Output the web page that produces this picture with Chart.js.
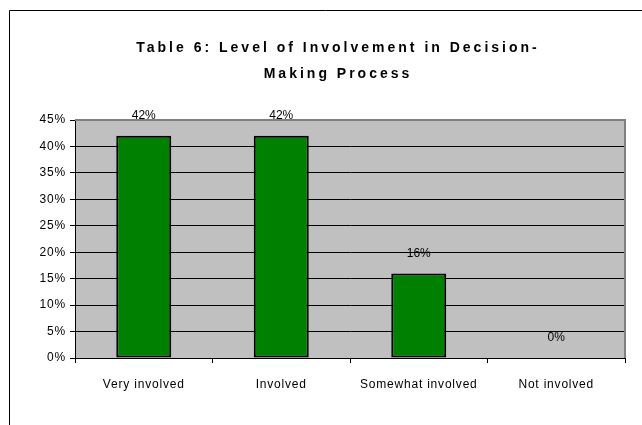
<!DOCTYPE html>
<html>
<head>
<meta charset="utf-8">
<script src="https://cdn.jsdelivr.net/npm/chart.js@4"></script>
<style>
  html, body { margin: 0; padding: 0; background: #fff; }
  #wrap { width: 642px; height: 425px; }
</style>
</head>
<body>
<div id="wrap"><canvas id="barChart" width="642" height="425"></canvas></div>
<script>
// chart data
var titleLines = ['Table 6: Level of Involvement in Decision-', 'Making Process'];
var categories = ['Very involved', 'Involved', 'Somewhat involved', 'Not involved'];
var percentages = [42, 42, 16, 0];
var yMax = 45;
var yStep = 5;

var FONT = '"Liberation Sans", Arial, sans-serif';

// grey plot background, outer frame, spaced-out title and value labels
var decorPlugin = {
    id: 'decor',
    beforeDraw: function (chart) {
        var ctx = chart.ctx, a = chart.chartArea;
        ctx.save();
        ctx.fillStyle = '#c0c0c0';
        ctx.fillRect(a.left, a.top, a.right - a.left, a.bottom - a.top);
        ctx.restore();
        // the axis labels in the original are slightly spread out
        ctx.letterSpacing = '0.8px';
    },
    afterDatasetsDraw: function (chart) {
        var ctx = chart.ctx;
        var meta = chart.getDatasetMeta(0);
        ctx.save();
        ctx.letterSpacing = '0px';
        ctx.fillStyle = '#000';
        ctx.font = '12px ' + FONT;
        ctx.textAlign = 'center';
        ctx.textBaseline = 'middle';
        meta.data.forEach(function (bar, i) {
            ctx.fillText(percentages[i] + '%', bar.x, bar.y - 20);
        });
        ctx.restore();
    },
    afterDraw: function (chart) {
        var ctx = chart.ctx, a = chart.chartArea;
        ctx.save();
        // plot border on top/right
        ctx.strokeStyle = '#808080';
        ctx.lineWidth = 2;
        ctx.beginPath();
        ctx.moveTo(a.left, a.top);
        ctx.lineTo(a.right, a.top);
        ctx.lineTo(a.right, a.bottom);
        ctx.stroke();
        // outer frame
        ctx.strokeStyle = '#000';
        ctx.lineWidth = 1;
        ctx.beginPath();
        ctx.moveTo(9.5, 425);
        ctx.lineTo(9.5, 10.5);
        ctx.lineTo(642, 10.5);
        ctx.stroke();
        // title
        ctx.fillStyle = '#000';
        ctx.font = 'bold 14px ' + FONT;
        ctx.letterSpacing = '3px';
        ctx.textAlign = 'center';
        ctx.textBaseline = 'middle';
        ctx.fillText(titleLines[0], 338, 48);
        ctx.fillText(titleLines[1], 338, 74);
        ctx.restore();
    }
};

var barChart = new Chart(document.getElementById('barChart'), {
    type: 'bar',
    data: {
        labels: categories,
        datasets: [{
            data: percentages,
            backgroundColor: '#008000',
            borderColor: '#000',
            borderWidth: 2,
            borderSkipped: false,
            categoryPercentage: 1,
            barPercentage: 0.4
        }]
    },
    options: {
        responsive: false,
        animation: false,
        layout: { padding: { top: 120, right: 17, left: 0, bottom: 0 } },
        plugins: {
            legend: { display: false },
            tooltip: { enabled: false }
        },
        scales: {
            x: {
                offset: true,
                grid: {
                    offset: true,
                    drawOnChartArea: false,
                    color: '#000',
                    tickLength: 5
                },
                border: { color: '#000', width: 1 },
                ticks: {
                    color: '#000',
                    padding: 14,
                    font: { family: FONT, size: 12 }
                },
                afterFit: function (scale) { scale.height = 67; }
            },
            y: {
                min: 0,
                max: yMax,
                grid: { color: '#000', tickLength: 5 },
                border: { color: '#000', width: 1 },
                ticks: {
                    stepSize: yStep,
                    color: '#000',
                    padding: 4,
                    font: { family: FONT, size: 12 },
                    callback: function (v) { return v + '%'; }
                },
                afterFit: function (scale) { scale.width = 75; }
            }
        }
    },
    plugins: [decorPlugin]
});
</script>
</body>
</html>
